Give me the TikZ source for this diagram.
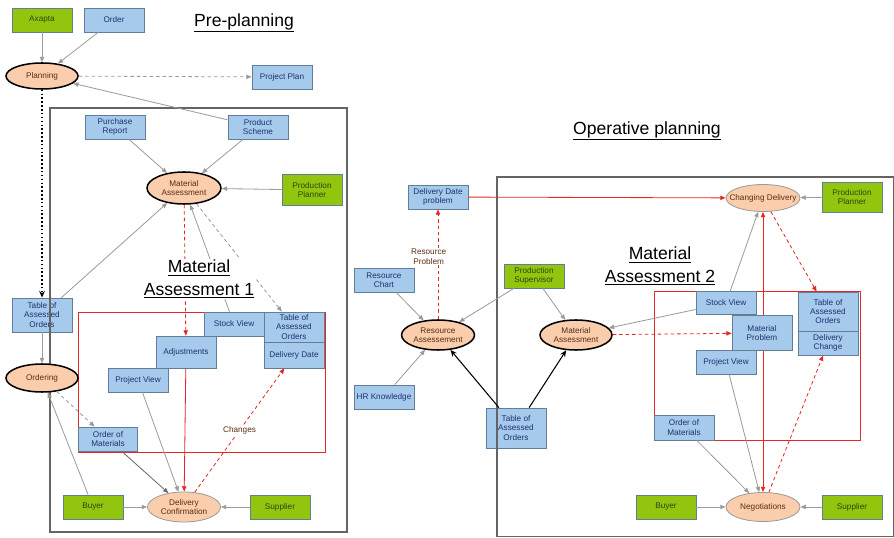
\documentclass[tikz,border=0pt]{standalone}
\usepackage{fontspec}
\setmainfont{Liberation Sans}
\usepackage{tikz}
\usetikzlibrary{arrows.meta,shapes.geometric,backgrounds}
\definecolor{pbblue}{RGB}{166,202,236}
\definecolor{pbedge}{RGB}{100,125,150}
\definecolor{pbtext}{RGB}{30,50,110}
\definecolor{pbgreen}{RGB}{146,198,14}
\definecolor{pbgtext}{RGB}{40,70,20}
\definecolor{pbpeach}{RGB}{250,205,172}
\definecolor{pbbrown}{RGB}{90,45,20}
\definecolor{pbred}{RGB}{228,40,40}
\definecolor{pbgrey}{RGB}{155,155,155}
\definecolor{pbdark}{RGB}{105,105,105}
\definecolor{pbframe}{RGB}{100,100,100}
\newcommand{\pbfont}{\fontsize{7}{8}\selectfont}
\tikzset{
  blk/.style={
    draw=pbedge, line width=0.6pt, fill=pbblue, text=pbtext,
    align=center, inner sep=1pt, font=\pbfont,
    minimum width=1.8cm, minimum height=0.72cm
  },
  grn/.style={blk, fill=pbgreen, text=pbgtext},
  stage/.style={
    ellipse, draw=black, line width=1.3pt, fill=pbpeach, text=pbbrown,
    align=center, inner sep=1pt, font=\pbfont
  },
  stagethin/.style={stage, draw=pbgrey, line width=0.7pt},
  arr/.style={-{Triangle[length=1.6mm,width=1.3mm]}, draw=pbgrey, line width=0.7pt},
  darr/.style={arr, dash pattern=on 3pt off 2.5pt},
  rarr/.style={arr, draw=pbred},
  rdarr/.style={rarr, dash pattern=on 3pt off 2.5pt},
  rboth/.style={rarr, {Triangle[length=1.6mm,width=1.3mm]}-{Triangle[length=1.6mm,width=1.3mm]}},
  karr/.style={-{Stealth[length=2mm,width=1.7mm]}, draw=black, line width=0.9pt},
  kdot/.style={karr, line width=1.3pt, dash pattern=on 1.3pt off 2pt},
  panel/.style={draw=pbframe, line width=0.9pt},
  rpanel/.style={draw=pbred, line width=0.7pt},
  heading/.style={font=\fontsize{15}{19}\selectfont, align=center, fill=white, inner sep=1pt},
  anno/.style={font=\pbfont, text=pbbrown, align=center, fill=white, inner sep=0.6pt}
}
\begin{document}
\begin{tikzpicture}[x=0.03cm,y=-0.03cm]
  \useasboundingbox (0,0) rectangle (894,538);

  \draw[rpanel] (78,312) rectangle (325,452);
  \draw[rpanel] (654,291) rectangle (860,440);

  \node[grn] (axapta) at (42,20) {Axapta};
  \node[blk] (order) at (114,20) {Order};
  \node[blk] (pplan) at (282,77) {Project Plan};
  \node[blk] (purch) at (115,127) {Purchase\\Report};
  \node[blk] (pscheme) at (258,127) {Product\\Scheme};
  \node[grn, minimum height=0.93cm] (planner) at (312,190) {Production\\Planner};
  \node[blk, minimum height=1.02cm] (tabl) at (42,315) {Table of\\Assessed\\Orders};
  \node[blk] (stock) at (234,324) {Stock View};
  \node[blk, minimum height=0.9cm] (tabr) at (294,327) {Table of\\Assessed\\Orders};
  \node[blk, minimum height=0.78cm] (ddate) at (294,355) {Delivery Date};
  \node[blk, minimum height=0.96cm] (adj) at (186,352) {Adjustments};
  \node[blk] (pview) at (138,380) {Project View};
  \node[blk, minimum width=1.77cm] (omat) at (108,439) {Order of\\Materials};
  \node[grn] (buyer) at (93,507) {Buyer};
  \node[grn] (supp) at (280,507) {Supplier};

  \node[blk] (ddprob) at (438,197) {Delivery Date\\problem};
  \node[grn, minimum height=0.9cm] (plannerr) at (852,197) {Production\\Planner};
  \node[blk] (rchart) at (384,280) {Resource\\Chart};
  \node[grn] (psup) at (534,276) {Production\\Supervisor};
  \node[blk] (hrk) at (384,397) {HR Knowledge};
  \node[blk, minimum height=1.2cm] (tabm) at (516,428) {Table of\\Assessed\\Orders};
  \node[blk, minimum height=0.69cm] (stockr) at (726,303) {Stock View};
  \node[blk, minimum height=1.05cm] (mprob) at (762,333) {Material\\Problem};
  \node[blk] (pviewr) at (726,362) {Project View};
  \node[blk, minimum height=1.17cm] (tabrr) at (828,311.5) {Table of\\Assessed\\Orders};
  \node[blk] (dchange) at (828,343) {Delivery\\Change};
  \node[blk, minimum height=0.75cm] (omatr) at (684,427.5) {Order of\\Materials};
  \node[grn] (buyerr) at (666,507) {Buyer};
  \node[grn] (suppr) at (852,507) {Supplier};

  \draw[panel] (50,108) rectangle (347,532);
  \draw[panel] (497,177) rectangle (893.5,536.5);

  \node[stage, minimum width=2.16cm, minimum height=0.78cm] (plan) at (42,76) {Planning};
  \node[stage, minimum width=2.22cm, minimum height=0.96cm] (mass) at (184,188) {Material\\Assessment};
  \node[stage, minimum width=2.16cm, minimum height=0.84cm] (ordering) at (42,378) {Ordering};
  \node[stagethin, minimum width=2.19cm, minimum height=0.9cm] (dconf) at (184,507) {Delivery\\Confirmation};
  \node[stagethin, minimum width=2.22cm, minimum height=0.81cm] (chdel) at (763,198) {\makebox[40pt]{Changing Delivery}};
  \node[stage, minimum width=2.16cm, minimum height=0.9cm] (rass) at (438,335) {Resource\\Assessement};
  \node[stage, minimum width=2.16cm, minimum height=0.9cm] (massr) at (576,335) {Material\\Assessment};
  \node[stagethin, minimum width=2.22cm, minimum height=0.87cm] (nego) at (763,507) {Negotiations};

  \begin{pgfonlayer}{background}
    \draw[rboth] (nego) -- (chdel);
  \end{pgfonlayer}

  \draw[arr] (axapta) -- (plan);
  \draw[arr] (order) -- (plan);
  \draw[darr] (plan) -- (pplan);
  \draw[arr] (pscheme) -- (plan);
  \draw[kdot] (plan) -- (tabl);
  \draw[arr] (purch) -- (mass);
  \draw[arr] (pscheme) -- (mass);
  \draw[arr] (planner) -- (mass);
  \draw[arr] (tabl) -- (mass);
  \draw[arr] (stock) -- (mass);
  \draw[darr] (mass) -- (tabr);
  \draw[rdarr] (mass) -- (adj);
  \draw[arr] (tabl) -- (ordering);
  \draw[darr] (ordering) -- (omat);
  \draw[arr] (buyer) -- (ordering);
  \draw[arr, draw=pbdark] (omat) -- (dconf);
  \draw[arr] (pview) -- (dconf);
  \draw[rarr] (adj) -- (dconf);
  \draw[rdarr] (dconf) -- node[anno, pos=0.5] (chg) {Changes} (ddate);
  \draw[arr] (buyer) -- (dconf);
  \draw[arr] (supp) -- (dconf);

  \draw[rarr] (ddprob) -- (chdel);
  \draw[arr] (plannerr) -- (chdel);
  \draw[arr] (rchart) -- (rass);
  \draw[arr] (hrk) -- (rass);
  \draw[arr] (psup) -- (rass);
  \draw[arr] (psup) -- (massr);
  \draw[karr] (tabm) -- (rass);
  \draw[karr] (tabm) -- (massr);
  \draw[rdarr] (rass) -- node[anno, pos=0.57, xshift=-8pt] (rprob) {Resource\\Problem} (ddprob);
  \draw[arr] (stockr) -- (massr);
  \draw[rdarr] (massr) -- (mprob);
  \draw[arr] (stockr) -- (chdel);
  \draw[rdarr] (chdel) -- (tabrr);
  \draw[rdarr] (nego) -- (dchange);
  \draw[arr] (pviewr) -- (nego);
  \draw[arr] (omatr) -- (nego);
  \draw[arr] (buyerr) -- (nego);
  \draw[arr] (suppr) -- (nego);

  \node[heading] (pretitle) at (244,23) {\underline{Pre-planning}};
  \node[heading] (optitle) at (647,131) {\underline{Operative planning}};
  \node[heading] (ma1title) at (199,279) {\underline{Material}\\\underline{Assessment 1}};
  \node[heading] (ma2title) at (660,266) {\underline{Material}\\\underline{Assessment 2}};
\end{tikzpicture}
\end{document}
